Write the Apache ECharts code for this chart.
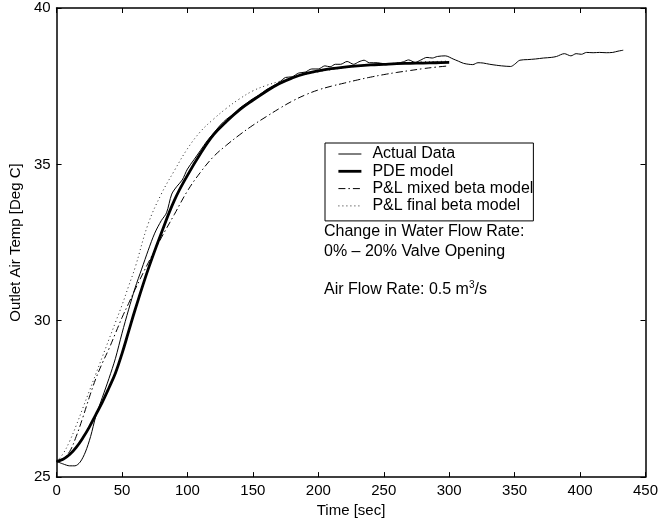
<!DOCTYPE html>
<html>
<head>
<meta charset="utf-8">
<script src="https://cdn.jsdelivr.net/npm/echarts@6/dist/echarts.min.js"></script>
<style>html,body{margin:0;padding:0;background:#fff}#c{width:661px;height:523px}</style>
</head>
<body>
<div id="c"></div>
<script>
// ---- data ----
const xTicks = [0, 50, 100, 150, 200, 250, 300, 350, 400, 450];
const yTicks = [25, 30, 35, 40];

const tActual = [0,5,10,14,18,22,26,30,35,40,45,50,55,60,65,70,75,80,84,88,92,96,100,105,110,115,120,125,130,135,140,145,150,155,160,165,170,175,180,185,190,195,200,205,209,213,217,222,227,231,235,239,245,250,255,260,265,269,274,278,283,287,291,297,303,307,311,315,318,322,326,331,336,340,347,350,354,360,366,372,378,382,388,393,397,401,405,410,415,420,425,429,433];
const yActual = [25.5,25.42,25.36,25.36,25.48,25.8,26.3,26.95,27.55,28.15,28.8,29.6,30.35,31.05,31.65,32.25,32.8,33.2,33.45,34.05,34.3,34.5,34.85,35.15,35.45,35.75,36.0,36.25,36.45,36.6,36.8,36.95,37.1,37.22,37.38,37.5,37.62,37.78,37.8,37.92,37.95,38.05,38.05,38.15,38.12,38.2,38.2,38.29,38.2,38.28,38.33,38.25,38.25,38.22,38.22,38.23,38.28,38.34,38.26,38.33,38.42,38.4,38.45,38.47,38.37,38.3,38.23,38.2,38.19,38.25,38.24,38.2,38.17,38.15,38.13,38.2,38.33,38.35,38.37,38.4,38.42,38.45,38.54,38.47,38.54,38.52,38.58,38.57,38.58,38.57,38.58,38.62,38.65];

const tModel = [0,5,10,15,20,25,30,35,40,45,50,55,60,70,80,90,100,110,120,130,140,150,160,170,180,190,200,210,220,230,240,250,260,270,280,290,300];
const yPDE   = [25.5,25.57,25.72,25.95,26.25,26.6,27.0,27.4,27.85,28.33,28.95,29.65,30.35,31.65,32.8,33.85,34.65,35.35,35.95,36.38,36.75,37.05,37.33,37.58,37.76,37.9,37.99,38.06,38.11,38.15,38.18,38.2,38.22,38.23,38.24,38.25,38.26];
const yMixed = [25.5,25.6,25.82,26.3,26.9,27.55,28.15,28.65,29.1,29.6,30.1,30.55,31.0,31.85,32.65,33.4,34.15,34.75,35.25,35.62,35.95,36.25,36.52,36.78,37.02,37.22,37.38,37.5,37.6,37.7,37.79,37.87,37.94,38.0,38.06,38.11,38.15];
const yFinal = [25.5,25.75,26.15,26.65,27.2,27.75,28.3,28.85,29.4,29.95,30.5,31.1,31.7,33.1,34.05,34.8,35.5,36.05,36.45,36.8,37.1,37.35,37.52,37.65,37.77,37.88,37.96,38.03,38.09,38.14,38.18,38.21,38.24,38.26,38.28,38.29,38.3];

const seriesNames = ['Actual Data', 'PDE model', 'P&L mixed beta model', 'P&L final beta model'];
const noteLines = ['Change in Water Flow Rate:', '0% \u2013 20% Valve Opening', 'Air Flow Rate: 0.5 m{sup|3}/s'];

// ---- chart ----
const pair = (xs, ys) => xs.map((x, i) => [x, ys[i]]);
const FONT = 'Liberation Sans, Arial, sans-serif';
const FS = 15;
const FS2 = 16;
const lineW = [1, 2.8, 1, 1];
const chart = echarts.init(document.getElementById('c'), null, {renderer: 'canvas'});

const axisCommon = {
  axisLine: {show: true, onZero: false, lineStyle: {color: '#000', width: 1.5}},
  axisTick: {show: true, inside: true, length: 5, lineStyle: {color: '#000', width: 1}},
  splitLine: {show: false}
};

const option = {
  animation: false,
  backgroundColor: '#fff',
  grid: {left: 54, right: 13, top: 8, bottom: 45, containLabel: false},
  xAxis: [
    Object.assign({}, axisCommon, {
      type: 'value', min: 0, max: 450, interval: 50, position: 'bottom',
      name: 'Time [sec]', nameLocation: 'middle', nameGap: 24,
      nameTextStyle: {color: '#000', fontFamily: FONT, fontSize: FS},
      axisLabel: {color: '#000', fontFamily: FONT, fontSize: FS, margin: 6,
        formatter: v => xTicks.includes(v) ? String(v) : ''}
    }),
    Object.assign({}, axisCommon, {
      type: 'value', min: 0, max: 450, interval: 50, position: 'top',
      axisLabel: {show: false}
    })
  ],
  yAxis: [
    Object.assign({}, axisCommon, {
      type: 'value', min: 25, max: 40, interval: 5, position: 'left',
      name: 'Outlet Air Temp [Deg C]', nameLocation: 'middle', nameGap: 28, nameRotate: 90,
      nameTextStyle: {color: '#000', fontFamily: FONT, fontSize: FS},
      axisLabel: {color: '#000', fontFamily: FONT, fontSize: FS, margin: 6,
        formatter: v => yTicks.includes(v) ? String(v) : ''}
    }),
    Object.assign({}, axisCommon, {
      type: 'value', min: 25, max: 40, interval: 5, position: 'right',
      axisLabel: {show: false}
    })
  ],
  legend: {
    show: true,
    orient: 'vertical', left: 325, top: 143,
    data: seriesNames.map((n, i) => ({name: n, lineStyle: {width: lineW[i]}})),
    backgroundColor: '#fff', borderColor: '#000', borderWidth: 1,
    padding: [3, 0, 7, 12], itemGap: 1.3, itemWidth: 23, itemHeight: 12,
    itemStyle: {opacity: 0},
    textStyle: {color: '#000', fontFamily: FONT, fontSize: FS2, padding: [0, 0, 0, 6]},
    selectedMode: false
  },
  graphic: [
    {type: 'text', left: 324, top: 224, style: {text: noteLines[0], fill: '#000', font: FS2 + 'px ' + FONT}},
    {type: 'text', left: 324, top: 244, style: {text: noteLines[1], fill: '#000', font: FS2 + 'px ' + FONT}},
    {type: 'text', left: 324, top: 280, style: {rich: {sup: {fontSize: 10, verticalAlign: 'top', padding: [0,0,9,0], fontFamily: FONT, fill: '#000'}}, text: noteLines[2], fill: '#000', font: FS2 + 'px ' + FONT}}
  ],
  series: [
    {name: seriesNames[0], type: 'line', data: pair(tActual, yActual), showSymbol: false, symbol: 'none',
      smooth: 0.3, lineStyle: {color: '#000', width: lineW[0]}, itemStyle: {color: '#000'}, z: 3},
    {name: seriesNames[1], type: 'line', data: pair(tModel, yPDE), showSymbol: false, symbol: 'none',
      smooth: 0.4, lineStyle: {color: '#000', width: lineW[1]}, itemStyle: {color: '#000'}, z: 4},
    {name: seriesNames[2], type: 'line', data: pair(tModel, yMixed), showSymbol: false, symbol: 'none',
      smooth: 0.4, lineStyle: {color: '#000', width: lineW[2], type: [7, 3, 1.5, 3]}, itemStyle: {color: '#000'}, z: 2},
    {name: seriesNames[3], type: 'line', data: pair(tModel, yFinal), showSymbol: false, symbol: 'none',
      smooth: 0.4, lineStyle: {color: '#222', width: lineW[3], type: [1, 3]}, itemStyle: {color: '#222'}, z: 2}
  ]
};
chart.setOption(option);
</script>
</body>
</html>
